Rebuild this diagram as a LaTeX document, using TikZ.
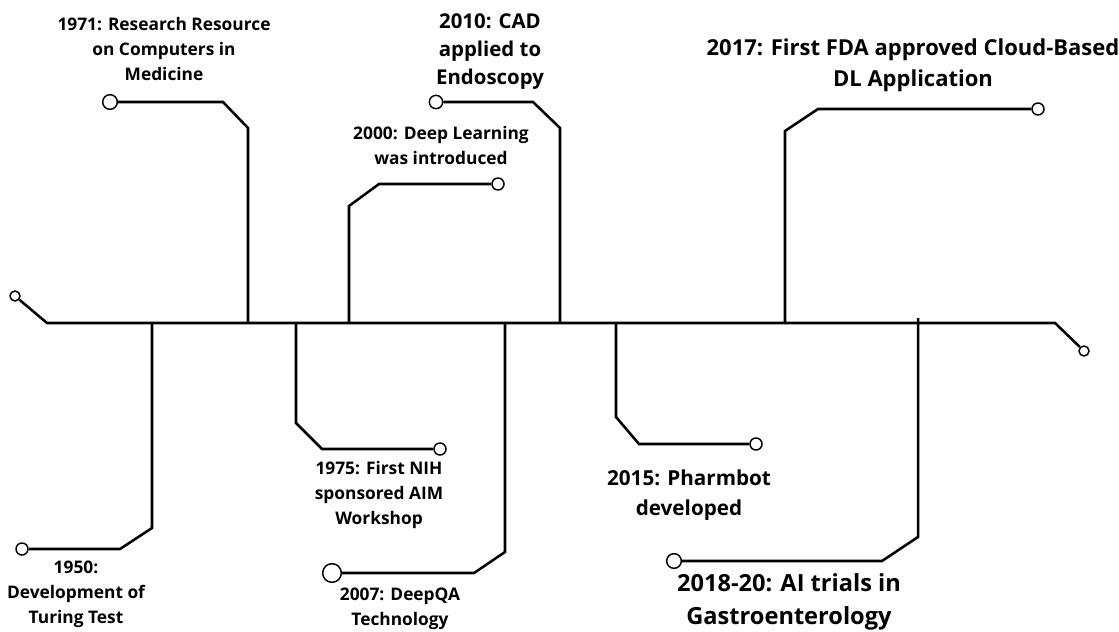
\documentclass[tikz,border=0pt]{standalone}
\usepackage{fontspec}
\setmainfont{Open Sans}
\begin{document}
\begin{tikzpicture}[x=0.75pt,y=-0.75pt,
  conn/.style={line width=1.9pt, line join=miter},
  dot/.style={circle,draw,fill=white,line width=1.1pt,inner sep=0pt,minimum size=#1},
  dot/.default=9pt,
  lbl/.style={align=center,font=\bfseries\fontsize{13}{18.75}\selectfont,inner sep=0pt},
  lblm/.style={align=center,font=\bfseries\fontsize{15.3}{21}\selectfont,inner sep=0pt},
  lbln/.style={align=center,font=\bfseries\fontsize{15.5}{22.5}\selectfont,inner sep=0pt},
  lblb/.style={align=center,font=\bfseries\fontsize{16.5}{23}\selectfont,inner sep=0pt},
  lblx/.style={align=center,font=\bfseries\fontsize{17.7}{24.75}\selectfont,inner sep=0pt}]
\useasboundingbox (0,0) rectangle (1119,631);
% main line
\node[dot=7.5pt] (lc) at (15,296) {};
\node[dot=7.5pt] (rc) at (1084,351) {};
\coordinate (ml) at (47,323);
\coordinate (mr) at (1055,323);
\draw[conn] (lc) -- (ml) -- (mr) -- (rc);
% 1971
\node[dot=11pt] (c1971) at (110,102) {};
\draw[conn] (c1971) -- (223,102) -- (248,128) -- (248,323);
\node[lbl] (t1971) at (164,49) {1971: Research Resource\\on Computers in\\Medicine};
% 2000
\node[dot=9pt] (c2000) at (498,184) {};
\draw[conn] (c2000) -- (379,184) -- (349,206) -- (349,323);
\node[lbl] (t2000) at (441,145) {2000: Deep Learning\\was introduced};
% 2010
\node[dot=10pt] (c2010) at (436,102) {};
\draw[conn] (c2010) -- (533,102) -- (560,128) -- (560,323);
\node[lblm] (t2010) at (490,52) {2010: CAD\\applied to\\Endoscopy};
% 2017
\node[dot=9pt] (c2017) at (1038,109) {};
\draw[conn] (c2017) -- (818,109) -- (785,131) -- (785,323);
\node[lblb] (t2017) at (913,65) {2017: First FDA approved Cloud-Based\\DL Application};
% 1950
\node[dot=9pt] (c1950) at (22,549) {};
\draw[conn] (c1950) -- (120,549) -- (152,528) -- (152,323);
\node[lbl] (t1950) at (76,594) {1950:\\Development of\\Turing Test};
% 1975
\node[dot=9pt] (c1975) at (440,449) {};
\draw[conn] (c1975) -- (322,449) -- (296,423) -- (296,323);
\node[lbl] (t1975) at (379,495) {1975: First NIH\\sponsored AIM\\Workshop};
% 2007
\node[dot=14pt] (c2007) at (332,573) {};
\draw[conn] (c2007) -- (474,573) -- (505,552) -- (505,323);
\node[lbl] (t2007) at (400,609) {2007: DeepQA\\Technology};
% 2015
\node[dot=9pt] (c2015) at (756,444) {};
\draw[conn] (c2015) -- (639,444) -- (616,417) -- (616,323);
\node[lbln] (t2015) at (689,495) {2015: Pharmbot\\developed};
% 2018
\node[dot=11pt] (c2018) at (674,561) {};
\draw[conn] (c2018) -- (882,561) -- (918,537) -- (918,318);
\node[lblx] (t2018) at (789,602) {2018-20: AI trials in\\Gastroenterology};
\end{tikzpicture}
\end{document}
